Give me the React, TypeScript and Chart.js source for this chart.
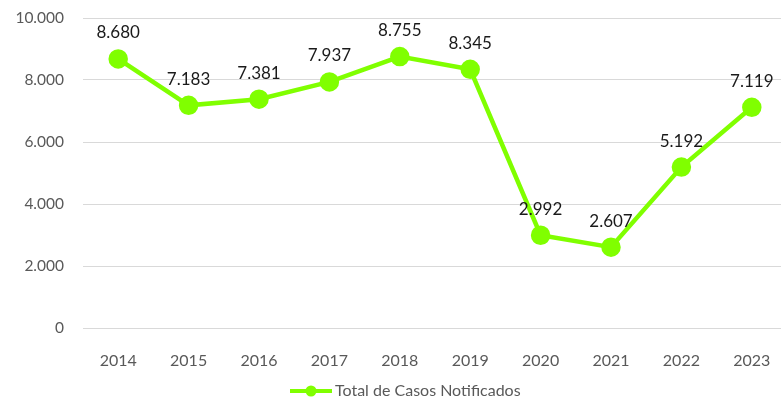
import React, { useEffect, useRef } from "react";
import { Chart, registerables } from "chart.js";

Chart.register(...registerables);

const years = ["2014", "2015", "2016", "2017", "2018", "2019", "2020", "2021", "2022", "2023"];
const casos = [8680, 7183, 7381, 7937, 8755, 8345, 2992, 2607, 5192, 7119];
const seriesName = "Total de Casos Notificados";
const yTicks = [0, 2000, 4000, 6000, 8000, 10000];

const GREEN = "#80ff00";
const FONT = "Lato, 'Open Sans', sans-serif";

const fmt = (v: number) => v.toString().replace(/\B(?=(\d{3})+(?!\d))/g, ".");

export default function App() {
  const ref = useRef<HTMLCanvasElement | null>(null);
  useEffect(() => {
    if (!ref.current) return;
    const labelPlugin = {
      id: "valueLabels",
      afterDatasetsDraw(chart: any) {
        const ctx = chart.ctx;
        const meta = chart.getDatasetMeta(0);
        ctx.save();
        ctx.font = `17px ${FONT}`;
        ctx.fillStyle = "#1a1a1a";
        ctx.textAlign = "center";
        ctx.textBaseline = "middle";
        meta.data.forEach((pt: any, i: number) => {
          ctx.fillText(fmt(casos[i]), pt.x, pt.y - 26);
        });
        ctx.restore();
      },
    };
    const legendPlugin = {
      id: "customLegend",
      afterDraw(chart: any) {
        const ctx = chart.ctx;
        ctx.save();
        const y = 391;
        ctx.strokeStyle = GREEN;
        ctx.lineWidth = 4;
        ctx.beginPath();
        ctx.moveTo(290, y);
        ctx.lineTo(332, y);
        ctx.stroke();
        ctx.fillStyle = GREEN;
        ctx.beginPath();
        ctx.arc(311, y, 5.5, 0, Math.PI * 2);
        ctx.fill();
        ctx.font = `16px ${FONT}`;
        ctx.fillStyle = "#595959";
        ctx.textAlign = "left";
        ctx.textBaseline = "middle";
        ctx.fillText(seriesName, 335, y);
        ctx.restore();
      },
    };
    const chart = new Chart(ref.current, {
      type: "line",
      data: {
        labels: years,
        datasets: [
          {
            label: seriesName,
            data: casos,
            borderColor: GREEN,
            backgroundColor: GREEN,
            borderWidth: 4.5,
            pointRadius: 7.5,
            pointHoverRadius: 7.5,
            pointBackgroundColor: GREEN,
            pointBorderColor: GREEN,
            tension: 0,
          },
        ],
      },
      options: {
        animation: false,
        responsive: false,
        maintainAspectRatio: false,
        layout: { padding: { top: 18, right: 0, bottom: 0, left: 0 } },
        plugins: {
          legend: { display: false },
          tooltip: { enabled: false },
        },
        scales: {
          x: {
            offset: true,
            grid: { display: false },
            border: { display: false },
            ticks: {
              color: "#595959",
              font: { family: FONT, size: 16 },
              padding: 15,
              maxRotation: 0,
            },
            afterFit(scale: any) {
              scale.height = 73;
              scale.paddingLeft = 0;
              scale.paddingRight = 0;
            },
          },
          y: {
            min: 0,
            max: 10000,
            afterBuildTicks(scale: any) {
              scale.ticks = yTicks.map((v) => ({ value: v }));
            },
            grid: { color: "#d9d9d9", lineWidth: 1, drawTicks: false },
            border: { display: false },
            ticks: {
              color: "#595959",
              font: { family: FONT, size: 15.5 },
              padding: 19,
              callback: (v: any) => fmt(Number(v)),
            },
            afterFit(scale: any) {
              scale.width = 83;
              scale.paddingTop = 0;
              scale.paddingBottom = 0;
            },
          },
        },
      },
      plugins: [labelPlugin, legendPlugin],
    });
    return () => chart.destroy();
  }, []);
  return (
    <div style={{ position: "fixed", left: 0, top: 0, width: 781, height: 401, overflow: "hidden", background: "#fff" }}>
      <canvas ref={ref} width={799} height={401} style={{ display: "block", width: 799, height: 401 }} />
    </div>
  );
}
